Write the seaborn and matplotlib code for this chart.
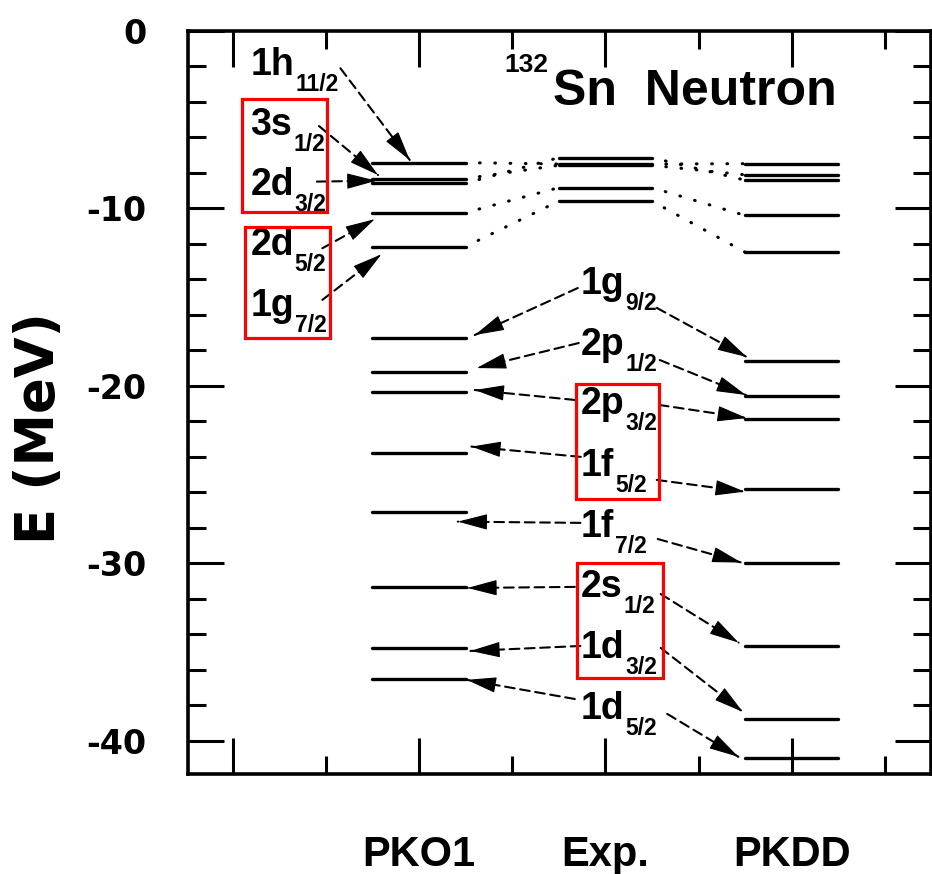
import numpy as np
import pandas as pd
import matplotlib
matplotlib.use("Agg")
import matplotlib.pyplot as plt
from matplotlib.ticker import MultipleLocator
from matplotlib.patches import Rectangle
import seaborn as sns

# ---------------- data ----------------
models = ["PKO1", "Exp.", "PKDD"]
model_x = [1, 2, 3]
yticks = [0, -10, -20, -30, -40]

# states above the gap (labels on the left, dotted connectors)
upper_main = ["1h", "3s", "2d", "2d", "1g"]
upper_sub = ["11/2", "1/2", "3/2", "5/2", "7/2"]
pko1_upper = [-7.42, -8.32, -8.58, -10.24, -12.15]
exp_upper = [-7.50, -7.57, -7.14, -8.83, -9.59]
pkdd_upper = [-7.48, -8.11, -8.41, -10.40, -12.47]

# deeper states (labels in the Exp. column, arrows to both models)
lower_main = ["1g", "2p", "2p", "1f", "1f", "2s", "1d", "1d"]
lower_sub = ["9/2", "1/2", "3/2", "5/2", "7/2", "1/2", "3/2", "5/2"]
pko1_lower = [-17.30, -19.25, -20.38, -23.79, -27.14, -31.32, -34.78, -36.56]
pkdd_lower = [-18.63, -20.55, -21.90, -25.84, -29.97, -34.69, -38.76, -41.01]

# ---------------- layout ----------------
half = 0.25
left_lab_x = 0.095
left_lab_base = [-2.48, -5.86, -9.24, -12.63, -16.07]
exp_lab_x = 1.868
exp_lab_base = [-14.83, -18.26, -21.59, -25.08, -28.52, -31.90, -35.34, -38.78]

up_arrow_start = [(0.578, -2.10), (0.463, -5.36), (0.452, -8.49), (0.481, -12.25), (0.481, -15.16)]
up_tip_x = [0.950, 0.780, 0.771, 0.762, 0.798]
up_tip_dy = [0.15, 0.20, 0.14, -0.37, -0.44]

lo_start_pko = [(1.852, -14.49), (1.857, -17.59), (1.836, -20.80), (1.868, -24.01),
                (1.866, -27.73), (1.836, -31.34), (1.866, -34.67), (1.836, -37.66)]
lo_tip_pko_x = [1.299, 1.310, 1.299, 1.281, 1.208, 1.260, 1.276, 1.256]
lo_tip_pko_dy = [0.16, 0.25, 0.14, 0.36, -0.52, -0.08, -0.17, -0.02]
lo_start_pkdd = [(2.276, -15.61), (2.292, -18.55), (2.287, -21.08), (2.276, -25.31),
                 (2.281, -28.64), (2.297, -31.74), (2.297, -34.78), (2.332, -38.50)]
lo_tip_pkdd_x = [2.759, 2.754, 2.759, 2.748, 2.731, 2.715, 2.738, 2.714]
lo_tip_pkdd_dy = [0.25, 0.03, 0.08, -0.13, 0.0, 0.21, 0.37, 0.09]

red_boxes = [(0.052, -10.20, 0.456, 6.37), (0.066, -17.32, 0.455, 6.29),
             (1.840, -26.38, 0.447, 6.48), (1.846, -36.45, 0.462, 6.48)]

# ---------------- style ----------------
sns.set_style("ticks")
plt.rcParams["font.family"] = ["Liberation Sans", "DejaVu Sans"]
plt.rcParams["font.weight"] = "bold"
plt.rcParams["lines.scale_dashes"] = False
for k in ["text.color", "axes.labelcolor", "xtick.color", "ytick.color", "axes.edgecolor"]:
    plt.rcParams[k] = "black"

fig = plt.figure(figsize=(9.32, 8.74), dpi=100)
ax = fig.add_axes([188 / 932, 1 - 773.5 / 874, 742.5 / 932, 742.5 / 874])

# energy levels
rows = []
for name, cx, vals in zip(models, model_x,
                          [pko1_upper + pko1_lower, exp_upper, pkdd_upper + pkdd_lower]):
    for i, e in enumerate(vals):
        uid = f"{name}-{i}"
        rows.append(dict(x=cx - half, E=e, uid=uid))
        rows.append(dict(x=cx + half, E=e, uid=uid))
levels = pd.DataFrame(rows)
sns.lineplot(data=levels, x="x", y="E", units="uid", estimator=None, sort=False,
             color="black", lw=2.4, solid_capstyle="round", legend=False, ax=ax)

# dotted connectors for the upper states
crow = []
for i in range(len(exp_upper)):
    crow += [dict(x=model_x[0] + half, E=pko1_upper[i], uid=f"L{i}"),
             dict(x=model_x[1] - half, E=exp_upper[i], uid=f"L{i}"),
             dict(x=model_x[1] + half, E=exp_upper[i], uid=f"R{i}"),
             dict(x=model_x[2] - half, E=pkdd_upper[i], uid=f"R{i}")]
conn = pd.DataFrame(crow)
sns.lineplot(data=conn, x="x", y="E", units="uid", estimator=None, sort=False,
             color="black", lw=2.2, linestyle=(1.0, (0.5, 10.5)),
             dash_capstyle="round", legend=False, ax=ax)

shaft = dict(arrowstyle="-", lw=1.5, linestyle=(0, (7, 4)), color="black",
             shrinkA=0, shrinkB=0)
head = dict(arrowstyle="-|>,head_length=1.9,head_width=0.5", mutation_scale=10,
            lw=0.8, color="black", shrinkA=0, shrinkB=0)


def arrow(start, tip):
    ax.annotate("", xy=tip, xytext=start, arrowprops=shaft)
    back = (tip[0] + 0.05 * (start[0] - tip[0]), tip[1] + 0.05 * (start[1] - tip[1]))
    ax.annotate("", xy=tip, xytext=back, arrowprops=head)


def label(x, base, main, sub):
    t = ax.text(x, base, main, fontsize=27, fontweight="bold", ha="left", va="baseline")
    ax.annotate(sub, xy=(1.0, base), xycoords=(t, "data"), xytext=(0.6, -11.5),
                textcoords="offset points", fontsize=16.5, fontweight="bold",
                ha="left", va="baseline")


for i in range(len(upper_main)):
    label(left_lab_x, left_lab_base[i], upper_main[i], upper_sub[i])
    arrow(up_arrow_start[i], (up_tip_x[i], pko1_upper[i] + up_tip_dy[i]))

for i in range(len(lower_main)):
    label(exp_lab_x, exp_lab_base[i], lower_main[i], lower_sub[i])
    arrow(lo_start_pko[i], (lo_tip_pko_x[i], pko1_lower[i] + lo_tip_pko_dy[i]))
    arrow(lo_start_pkdd[i], (lo_tip_pkdd_x[i], pkdd_lower[i] + lo_tip_pkdd_dy[i]))

for (x0, y0, w, h) in red_boxes:
    ax.add_patch(Rectangle((x0, y0), w, h, fill=False, ec="#ff0000", lw=2.3, zorder=5))

# title
ax.text(1.458, -2.31, "132", fontsize=19, fontweight="bold", ha="left", va="baseline")
ax.text(1.719, -4.17, "Sn  Neutron", fontsize=36, fontweight="bold", ha="left", va="baseline")

# axes
ax.set_xlim(-0.24, 3.745)
ax.set_ylim(-41.86, 0)
ax.set_xticks([0] + model_x, labels=[""] + models, fontsize=30, fontweight="bold")
ax.xaxis.set_minor_locator(MultipleLocator(0.5))
ax.set_yticks(yticks, labels=[f"{v}" for v in yticks], fontsize=24, fontweight="bold",
              fontfamily="DejaVu Sans")
ax.yaxis.set_minor_locator(MultipleLocator(2))
ax.tick_params(which="both", direction="in", top=True, right=True, width=2.2, color="black")
ax.tick_params(which="major", length=26)
ax.tick_params(which="minor", length=13)
ax.tick_params(axis="x", which="major", pad=44)
ax.tick_params(axis="y", which="major", pad=30)
ax.set_xlabel("")
ax.set_ylabel("E (MeV)", fontsize=38, fontweight="bold", fontfamily="DejaVu Sans")
ax.yaxis.set_label_coords(-0.165, 0.465)
for s in ax.spines.values():
    s.set_linewidth(2.6)
    s.set_color("black")

fig.savefig("out.png", dpi=100)
